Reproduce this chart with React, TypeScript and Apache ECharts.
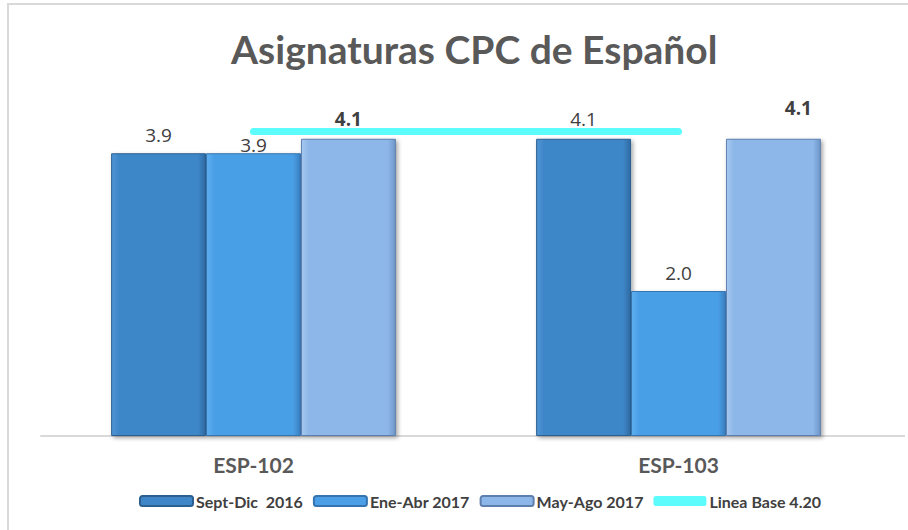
import React, { useEffect, useRef } from "react";
import * as echarts from "echarts";

const categories = ["ESP-102", "ESP-103"];
const seriesNames = ["Sept-Dic  2016", "Ene-Abr 2017", "May-Ago 2017"];
const sept2016 = [3.9, 4.1];
const ene2017 = [3.9, 2.0];
const may2017 = [4.1, 4.1];
const baseName = "Linea Base 4.20";
const baseLine = [4.2, 4.2];

const FONT = "Lato, 'Open Sans', sans-serif";

function grad(light: string, main: string, dark: string) {
  return new echarts.graphic.LinearGradient(0, 0, 1, 0, [
    { offset: 0, color: light },
    { offset: 0.08, color: main },
    { offset: 0.92, color: main },
    { offset: 1, color: dark },
  ]);
}

const nudges = [
  [[0, -4], [0, -5]],
  [[0, 6], [0, -4]],
  [[0, -5], [25, -16]],
];

export default function App() {
  const ref = useRef<HTMLDivElement>(null);
  useEffect(() => {
    if (!ref.current) return;
    const chart = echarts.init(ref.current, null, { renderer: "svg" });
    const colors = [
      { fill: grad("#4f95d6", "#3e86c8", "#2f6aa3"), border: "#2c5f90", legend: "#3e86c8" },
      { fill: grad("#5fb0f0", "#4a9fe6", "#3a7fc0"), border: "#3574b0", legend: "#4a9fe6" },
      { fill: grad("#a5c8ef", "#8db7e8", "#6f96c8"), border: "#5d7fae", legend: "#8db7e8" },
    ];
    const datas = [sept2016, ene2017, may2017];
    const bars = datas.map((d, si) => ({
      type: "bar",
      name: seriesNames[si],
      barGap: "0%",
      barCategoryGap: "33%",
      itemStyle: {
        color: colors[si].fill,
        borderColor: colors[si].border,
        borderWidth: 1,
        shadowColor: "rgba(0,0,0,0.35)",
        shadowBlur: 4,
        shadowOffsetX: 2,
        shadowOffsetY: 2,
      },
      data: d.map((v, i) => ({
        value: v,
        label: { offset: nudges[si][i] },
      })),
      label: {
        show: true,
        position: "top",
        formatter: (p: any) => p.value.toFixed(1),
        fontFamily: "'Open Sans', sans-serif",
        fontSize: 19,
        fontWeight: si === 2 ? "bold" : "normal",
        color: "#404040",
      },
      z: 3,
    }));
    chart.setOption({
      animation: false,
      backgroundColor: "#ffffff",
      title: {
        text: "Asignaturas CPC de Español",
        left: 226,
        top: 24,
        textStyle: { fontFamily: FONT, fontSize: 39, fontWeight: "bold", color: "#595959" },
      },
      graphic: [
        {
          type: "rect",
          shape: { x: 8, y: 4, width: 1000, height: 1000 },
          style: { fill: "none", stroke: "#d9d9d9", lineWidth: 2 },
          silent: true,
        },
        {
          type: "line",
          shape: { x1: 890, y1: 436, x2: 905, y2: 436 },
          style: { stroke: "#d9d9d9", lineWidth: 2 },
          silent: true,
        },
      ],
      legend: {
        top: 488,
        left: 134,
        itemWidth: 53,
        itemHeight: 10,
        itemGap: 10,
        textStyle: {
          fontFamily: FONT,
          fontSize: 16,
          fontWeight: "bold",
          color: "#404040",
          padding: [0, 0, 0, -2],
        },
        data: [
          { name: seriesNames[0], itemStyle: { color: colors[0].legend } },
          { name: seriesNames[1], itemStyle: { color: colors[1].legend } },
          { name: seriesNames[2], itemStyle: { color: colors[2].legend } },
          { name: baseName, icon: "roundRect", itemStyle: { color: "#5cfcfc" } },
        ],
      },
      grid: { left: 41, right: 17, top: 73.5, bottom: 94, containLabel: false },
      xAxis: {
        type: "category",
        data: categories,
        axisLine: { lineStyle: { color: "#d9d9d9", width: 2 } },
        axisTick: { show: false },
        axisLabel: {
          margin: 18,
          fontFamily: FONT,
          fontSize: 21,
          fontWeight: "bold",
          color: "#595959",
        },
      },
      yAxis: {
        type: "value",
        min: 0,
        max: 5,
        show: false,
        splitLine: { show: false },
      },
      series: [
        ...bars,
        {
          type: "line",
          name: baseName,
          data: baseLine,
          symbol: "none",
          z: 2,
          color: "#5cfcfc",
          lineStyle: {
            color: "#5cfcfc",
            width: 7,
            cap: "round",
          },
        },
      ],
    } as any);
    return () => chart.dispose();
  }, []);
  return (
    <div
      ref={ref}
      style={{ position: "absolute", left: 0, top: 0, width: 908, height: 530 }}
    />
  );
}
